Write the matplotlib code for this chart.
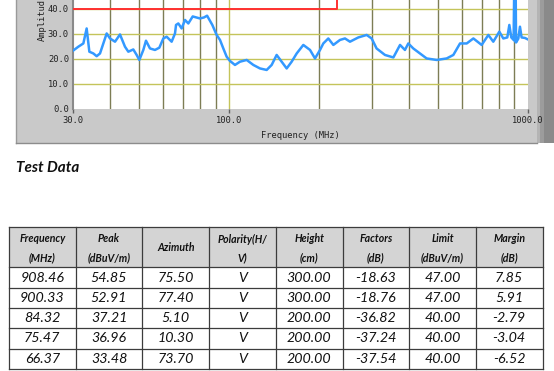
import matplotlib
matplotlib.use("Agg")
import matplotlib.pyplot as plt
from matplotlib.patches import Rectangle

# ---------------- data ----------------
trace_freq = [30.0, 31.26, 32.49, 33.33, 34.03, 35.09, 36.00, 36.94, 38.89, 39.90,
              41.47, 43.09, 44.78, 45.95, 47.75, 49.00, 50.02, 51.58, 52.65, 54.30,
              56.43, 58.35, 60.17, 61.74, 64.16, 65.84, 66.37, 67.55, 69.31, 71.11,
              72.97, 75.47, 79.82, 82.32, 84.32, 87.79, 90.77, 93.14, 95.55, 98.04,
              100.58, 104.53, 108.65, 114.40, 120.43, 126.77, 133.46, 138.69, 144.13, 149.8,
              155.7, 161.8, 168.2, 177.0, 186.4, 193.7, 201.3, 206.5, 214.6, 223.1,
              234.8, 244.0, 253.6, 270.4, 288.4, 299.7, 311.3, 332.1, 354.3, 373.0,
              387.4, 397.5, 413.1, 434.9, 457.9, 494.7, 534.3, 562.5, 592.2, 623.5,
              656.4, 699.7, 736.6, 765.3, 801.7, 826.6, 852.5, 866.0, 879.3, 895.0,
              900.33, 904.0, 908.46, 912.0, 928.0, 940.0, 951.9, 976.6, 1000.0]
trace_amp = [23.2, 24.8, 26.1, 32.1, 22.8, 22.1, 21.0, 22.1, 30.1, 28.1,
             26.8, 29.7, 24.8, 22.8, 23.7, 21.5, 19.5, 23.5, 27.2, 24.1,
             23.5, 24.4, 28.1, 28.8, 26.8, 30.1, 33.5, 34.1, 32.1, 35.5,
             34.1, 36.9, 36.1, 36.5, 37.2, 33.5, 29.5, 27.5, 24.1, 20.8,
             19.1, 17.5, 18.8, 19.5, 17.5, 16.1, 15.5, 17.5, 21.5, 18.8,
             16.1, 18.8, 22.1, 25.5, 23.5, 20.1, 23.5, 26.1, 28.1, 25.5,
             27.5, 28.1, 26.8, 28.5, 29.5, 28.1, 24.1, 21.5, 20.5, 25.5,
             23.5, 26.1, 24.1, 22.1, 20.1, 19.5, 20.1, 21.5, 26.1, 26.1,
             28.1, 25.5, 29.5, 26.8, 30.8, 28.1, 28.5, 33.5, 28.5, 27.5,
             52.91, 27.0, 54.85, 26.5, 28.0, 32.8, 28.5, 28.3, 27.7]

limit_freq = [30, 230, 230, 1000]
limit_amp = [40, 40, 47, 47]

xtick_vals = [30, 100, 1000]
xtick_labels = ["30.0", "100.0", "1000.0"]
xminor_vals = [40, 50, 60, 70, 80, 90, 200, 300, 400, 500, 600, 700, 800, 900]
ytick_vals = [0, 10, 20, 30, 40]
ytick_labels = ["0.0", "10.0", "20.0", "30.0", "40.0"]
ygrid_vals = [10, 20, 30, 40, 50, 60, 70]

header_top = ["Frequency", "Peak", "Azimuth", "Polarity(H/", "Height", "Factors", "Limit", "Margin"]
header_bot = ["(MHz)", "(dBuV/m)", "", "V)", "(cm)", "(dB)", "(dBuV/m)", "(dB)"]
col_frequency = ["908.46", "900.33", "84.32", "75.47", "66.37"]
col_peak = ["54.85", "52.91", "37.21", "36.96", "33.48"]
col_azimuth = ["75.50", "77.40", "5.10", "10.30", "73.70"]
col_polarity = ["V", "V", "V", "V", "V"]
col_height = ["300.00", "300.00", "200.00", "200.00", "200.00"]
col_factors = ["-18.63", "-18.76", "-36.82", "-37.24", "-37.54"]
col_limit = ["47.00", "47.00", "40.00", "40.00", "40.00"]
col_margin = ["7.85", "5.91", "-2.79", "-3.04", "-6.52"]

# ---------------- figure ----------------
W, H = 554, 371
fig = plt.figure(figsize=(W / 100, H / 100), dpi=100)
fig.patch.set_facecolor("white")

def fx(px):
    return px / W

def fy(py):
    return 1 - py / H

# background axes in pixel coordinates
bg = fig.add_axes([0, 0, 1, 1], zorder=-1)
bg.set_xlim(0, W)
bg.set_ylim(H, 0)
bg.axis("off")

# gray instrument panel
bg.add_patch(Rectangle((16, -2), 521, 145, facecolor="#c9c9c9", edgecolor="none"))
bg.plot([16, 16], [-2, 143], color="#9a9a9a", lw=1)
bg.plot([16, 537], [143, 143], color="#8c8c8c", lw=1)
bg.add_patch(Rectangle((537, -2), 3, 145, facecolor="#b4b4b4", edgecolor="none"))
bg.add_patch(Rectangle((540, -2), 4, 145, facecolor="#9c9c9c", edgecolor="none"))
bg.add_patch(Rectangle((544, -2), 10, 145, facecolor="#8a8a8a", edgecolor="none"))

# ---------------- chart ----------------
px_per_db = 2.5
bottom_px = 108.7
top_px = bottom_px - 80 * px_per_db
ax = fig.add_axes([fx(73), fy(bottom_px), fx(528) - fx(73), (bottom_px - top_px) / H])
ax.set_facecolor("white")
ax.set_xscale("log")
ax.set_xlim(30, 1000)
ax.set_ylim(0, 80)

ax.set_xticks(xtick_vals)
ax.set_xticklabels(xtick_labels)
ax.set_xticks(xminor_vals, minor=True)
ax.set_xticklabels([], minor=True)
ax.set_yticks(ytick_vals)
ax.set_yticklabels(ytick_labels)

for v in xminor_vals:
    ax.axvline(v, color="#7d7d55", lw=1.0, zorder=1)
ax.axvline(100, color="#c4c45a", lw=1.0, zorder=1)
for v in ygrid_vals:
    ax.axhline(v, color="#c4c45a", lw=1.0, zorder=1)

ax.plot(limit_freq, limit_amp, color="#ff3030", lw=1.4, zorder=3)
ax.plot(trace_freq, trace_amp, color="#3399ff", lw=1.8, zorder=4)

for s in ["top", "right", "bottom"]:
    ax.spines[s].set_visible(False)
ax.spines["left"].set_color("#8a8a8a")
ax.spines["left"].set_linewidth(1.5)

tick_font = dict(family="DejaVu Sans Mono", size=6.3)
ax.tick_params(axis="y", length=0, pad=3)
ax.tick_params(axis="x", which="major", length=3, width=1, color="#606060", direction="out", pad=2.2)
ax.tick_params(axis="x", which="minor", length=0)
for lab in ax.get_xticklabels() + ax.get_yticklabels():
    lab.set_fontfamily("DejaVu Sans Mono")
    lab.set_fontsize(6.3)
    lab.set_color("#202020")

fig.text(fx(300), fy(135), "Frequency (MHz)", ha="center", va="center", color="#202020", **tick_font)
fig.text(fx(42), fy(41), "Amplitud", ha="center", va="bottom", rotation=90,
         color="#202020", **tick_font)

# ---------------- heading ----------------
bg.text(16, 168, "Test Data", ha="left", va="center", fontsize=11, fontweight="bold",
        fontstyle="italic", family="Lato", color="#111111")

# ---------------- table ----------------
x_edges = [9 + i * 66.7 for i in range(9)]
y_edges = [227, 267.3, 287.7, 308.0, 328.3, 348.7, 369.0]
bg.add_patch(Rectangle((x_edges[0], y_edges[0]), x_edges[-1] - x_edges[0], y_edges[1] - y_edges[0],
                       facecolor="#d4d4d4", edgecolor="none"))
for x in x_edges:
    bg.plot([x, x], [y_edges[0], y_edges[-1]], color="#3c3c3c", lw=0.9)
for y in y_edges:
    bg.plot([x_edges[0], x_edges[-1]], [y, y], color="#3c3c3c", lw=0.9)

columns = [col_frequency, col_peak, col_azimuth, col_polarity, col_height,
           col_factors, col_limit, col_margin]
hdr = dict(ha="center", va="center", fontsize=7.6, fontweight="bold",
           fontstyle="italic", family="Lato", color="#111111")
for i in range(8):
    cx = (x_edges[i] + x_edges[i + 1]) / 2
    if header_bot[i]:
        bg.text(cx, 239, header_top[i], **hdr)
        bg.text(cx, 258, header_bot[i], **hdr)
    else:
        bg.text(cx, 247.5, header_top[i], **hdr)
    for r, val in enumerate(columns[i]):
        cy = (y_edges[r + 1] + y_edges[r + 2]) / 2
        bg.text(cx, cy, val, ha="center", va="center", fontsize=10.3,
                fontstyle="italic", family="Lato", color="#111111")

fig.savefig("out.png", dpi=100)
